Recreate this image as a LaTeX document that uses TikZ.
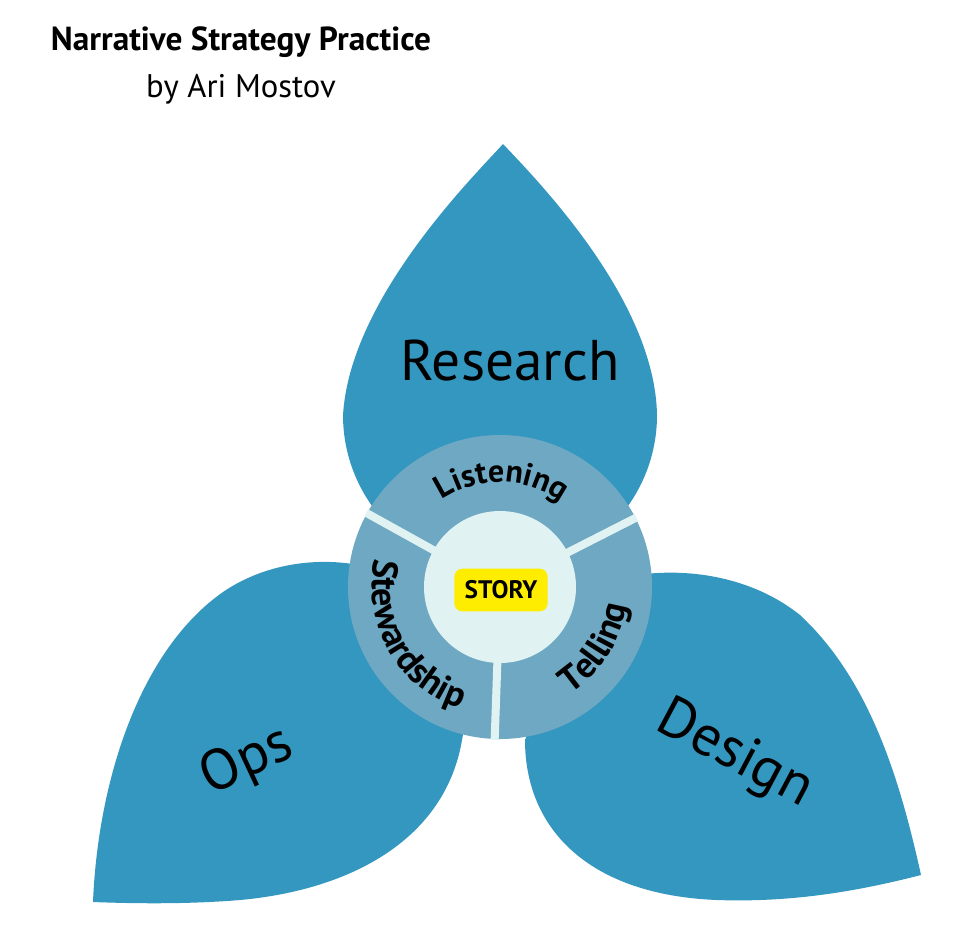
\documentclass[tikz,border=0pt]{standalone}
\usepackage{fontspec}
\setmainfont{PT Sans}
\usetikzlibrary{decorations.text}

\definecolor{petalblue}{HTML}{3497BF}
\definecolor{ringblue}{HTML}{6EA8C3}
\definecolor{corecyan}{HTML}{E1F2F3}
\definecolor{storyyellow}{HTML}{FFED00}
\newcommand\ringfont{\fontsize{24}{28}\selectfont\bfseries}
\newcommand\ringfontlow{\fontsize{27}{31}\selectfont\bfseries}

\begin{document}
\begin{tikzpicture}[x=0.75pt, y=-0.75pt]
		\tikzstyle{petal} = [fill=petalblue]
		\tikzstyle{big} = [font=\fontsize{43}{50}\selectfont, inner sep=0pt, text depth=0pt]
		\tikzstyle{ringtext} = [decorate, decoration={text along path, text align=center}]
		
		\useasboundingbox (0,0) rectangle (980,950);
		
		\node[font=\fontsize{25}{30}\selectfont\bfseries, anchor=base] 	at (241, 50) 	(title) 	{Narrative Strategy Practice};
		\node[font=\fontsize{24.5}{30}\selectfont, anchor=base] 		at (241, 97) 	(author) 	{by Ari Mostov};
		
		\fill[petal] (503,144) .. controls (470,180) and (350,300) .. (343,415)
			arc[start angle=180, end angle=0, radius=157]
			.. controls (655,300) and (537,180) .. (503,144) -- cycle;
		\fill[petal] (93,902) .. controls (98,780) and (140,650) .. (223,592)
			.. controls (270,560) and (330,555) .. (380,570)
			.. controls (450,600) and (475,680) .. (462,740)
			.. controls (445,840) and (350,890) .. (240,900)
			.. controls (180,905) and (120,903) .. (93,902) -- cycle;
		\fill[petal] (525,740) .. controls (525,830) and (590,895) .. (717,900)
			.. controls (800,903) and (870,888) .. (921,875)
			.. controls (900,780) and (870,680) .. (800,615)
			.. controls (750,575) and (680,565) .. (620,578)
			-- (560,650) -- cycle;
		
		\node[big] 				at (510, 360) 	(research) 	{Research};
		\node[big, rotate=25] 	at (245, 757) 	(ops) 		{Ops};
		\node[big, rotate=-28] 	at (737, 750) 	(design) 	{Design};
		
		\begin{scope}[shift={(500,587)}, x=0.75pt, y=0.75pt]
			\fill[ringblue] (0,0) circle[radius=152];
			\foreach \a in {27,151,268}
				\draw[corecyan, line width=6pt] (0,0) -- (\a:153);
			\fill[corecyan] (0,0) circle[radius=76];
			\node[fill=storyyellow, rounded corners=6pt, minimum width=70pt, minimum height=32pt,
				font=\fontsize{19}{22}\selectfont\bfseries] at (1,-3) (story) {STORY};
			\path[ringtext, decoration={text={|\ringfont|Listening}}] (151:105) arc[start angle=151, end angle=27, radius=105];
			\path[ringtext, decoration={text={|\ringfontlow|Stewardship}}] (151:128) arc[start angle=151, end angle=268, radius=128];
			\path[ringtext, decoration={text={|\ringfontlow|Telling}}] (268:128) arc[start angle=268, end angle=387, radius=128];
		\end{scope}
\end{tikzpicture}
\end{document}
